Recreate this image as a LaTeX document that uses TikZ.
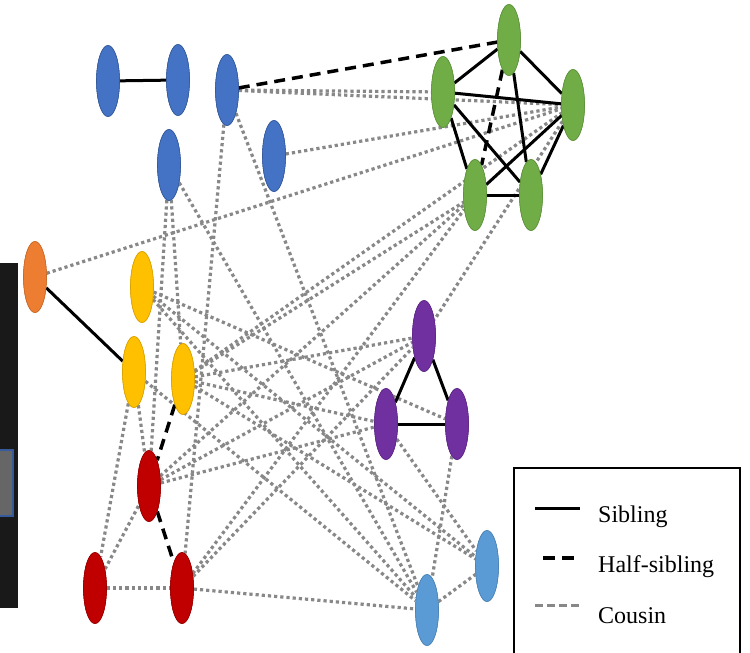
\documentclass[tikz,border=0pt]{standalone}
\usepackage{fontspec}
\setmainfont{Liberation Serif}
\usetikzlibrary{shapes.geometric}
\definecolor{cblue}{HTML}{4472C4}
\definecolor{cgreen}{HTML}{70AD47}
\definecolor{corange}{HTML}{ED7D31}
\definecolor{cyellow}{HTML}{FFC000}
\definecolor{cred}{HTML}{C00000}
\definecolor{cpurple}{HTML}{7030A0}
\definecolor{clblue}{HTML}{5B9BD5}
\definecolor{cdot}{HTML}{888888}
\begin{document}
\begin{tikzpicture}[x=1pt,y=-1pt,
  person/.style={ellipse,minimum width=23pt,minimum height=71pt,inner sep=0pt,line width=0.6pt},
  pb/.style={person,fill=cblue,draw=cblue!80!black},
  pg/.style={person,fill=cgreen,draw=cgreen!85!black},
  po/.style={person,fill=corange,draw=corange!85!black},
  py/.style={person,fill=cyellow,draw=cyellow!85!black},
  pr/.style={person,fill=cred,draw=cred!80!black},
  pp/.style={person,fill=cpurple,draw=cpurple!85!black},
  pl/.style={person,fill=clblue,draw=clblue!85!black},
  sib/.style={draw=black,line width=3pt},
  half/.style={draw=black,line width=3.5pt,dash pattern=on 11pt off 7pt},
  cous/.style={draw=cdot,line width=3.2pt,dash pattern=on 3.2pt off 3pt},
  legtext/.style={anchor=base west,font=\fontsize{24}{28}\selectfont,inner sep=0pt}
]
\useasboundingbox (0,0) rectangle (750,653);
\fill[white] (0,0) rectangle (750,653);
% left dark panel
\fill[black!90] (0,263) rectangle (18,608);
\draw[fill=black!60,draw=cblue!80!black,line width=1.2pt] (-2,450) rectangle (13,516);

% nodes
\node[pb] (B1) at (108,81) {};
\node[pb] (B2) at (178,80) {};
\node[pb] (B3) at (227,90) {};
\node[pb] (B4) at (169,165) {};
\node[pb] (B5) at (274,156) {};
\node[pg] (G1) at (509,40) {};
\node[pg] (G2) at (443,92) {};
\node[pg] (G3) at (573,105) {};
\node[pg] (G4) at (475,195) {};
\node[pg] (G5) at (531,195) {};
\node[po] (O) at (35,277) {};
\node[py] (Y1) at (142,287) {};
\node[py] (Y2) at (134,372) {};
\node[py] (Y3) at (183,379) {};
\node[pr] (R1) at (149,486) {};
\node[pr] (R2) at (95,588) {};
\node[pr] (R3) at (182,588) {};
\node[pp] (P1) at (424,336) {};
\node[pp] (P2) at (386,424) {};
\node[pp] (P3) at (457,424) {};
\node[pl] (L1) at (427,610) {};
\node[pl] (L2) at (487,566) {};

% cousin edges
\foreach \a/\b in {B3/G2,B3/G3,B5/G3,O/G3,B3/R3,B3/L1,B4/R1,B4/Y3,B4/L1,
  Y1/P3,Y1/L2,Y1/L1,Y2/R2,Y2/R1,R2/R1,R2/R3,R3/L1,R3/G4,R3/P1,R1/G4,R1/P1,R1/P2,
  Y3/P1,Y3/G4,Y3/G3,Y3/P2,Y3/L2,Y2/L1,G3/P1,P2/L2,P3/L1,L1/L2}
  \draw[cous] (\a) -- (\b);
% sibling edges
\foreach \a/\b in {B1/B2,O/Y2,P1/P2,P1/P3,P2/P3,G1/G2,G1/G3,G2/G3,G2/G4,G2/G5,G3/G4,G3/G5,G4/G5,G1/G5}
  \draw[sib] (\a) -- (\b);
% half-sibling edges
\foreach \a/\b in {B3/G1,Y3/R1,R1/R3,G1/G4}
  \draw[half] (\a) -- (\b);

% redraw nodes on top of connectors
\foreach \n in {B1,B2,B3,B4,B5} \node[pb] at (\n) {};
\foreach \n in {G1,G2,G3,G4,G5} \node[pg] at (\n) {};
\node[po] at (O) {};
\foreach \n in {Y1,Y2,Y3} \node[py] at (\n) {};
\foreach \n in {R1,R2,R3} \node[pr] at (\n) {};
\foreach \n in {P1,P2,P3} \node[pp] at (\n) {};
\foreach \n in {L1,L2} \node[pl] at (\n) {};

% legend
\node[draw=black,line width=1.5pt,minimum width=226pt,minimum height=200pt,anchor=north west,inner sep=0pt] (leg) at (513,467) {};
\coordinate (s1) at (535,508); \coordinate (s2) at (580,508);
\coordinate (h1) at (543,558); \coordinate (h2) at (580,558);
\coordinate (c1) at (535,605); \coordinate (c2) at (580,605);
\draw[sib] (s1) -- (s2);
\draw[black,line width=3.5pt,dash pattern=on 12pt off 7pt] (h1) -- (h2);
\draw[cdot,line width=3pt,dash pattern=on 8pt off 4pt] (c1) -- (c2);
\node[legtext] (t1) at (598,522) {Sibling};
\node[legtext] (t2) at (598,572) {Half-sibling};
\node[legtext] (t3) at (598,623) {Cousin};
\end{tikzpicture}
\end{document}
